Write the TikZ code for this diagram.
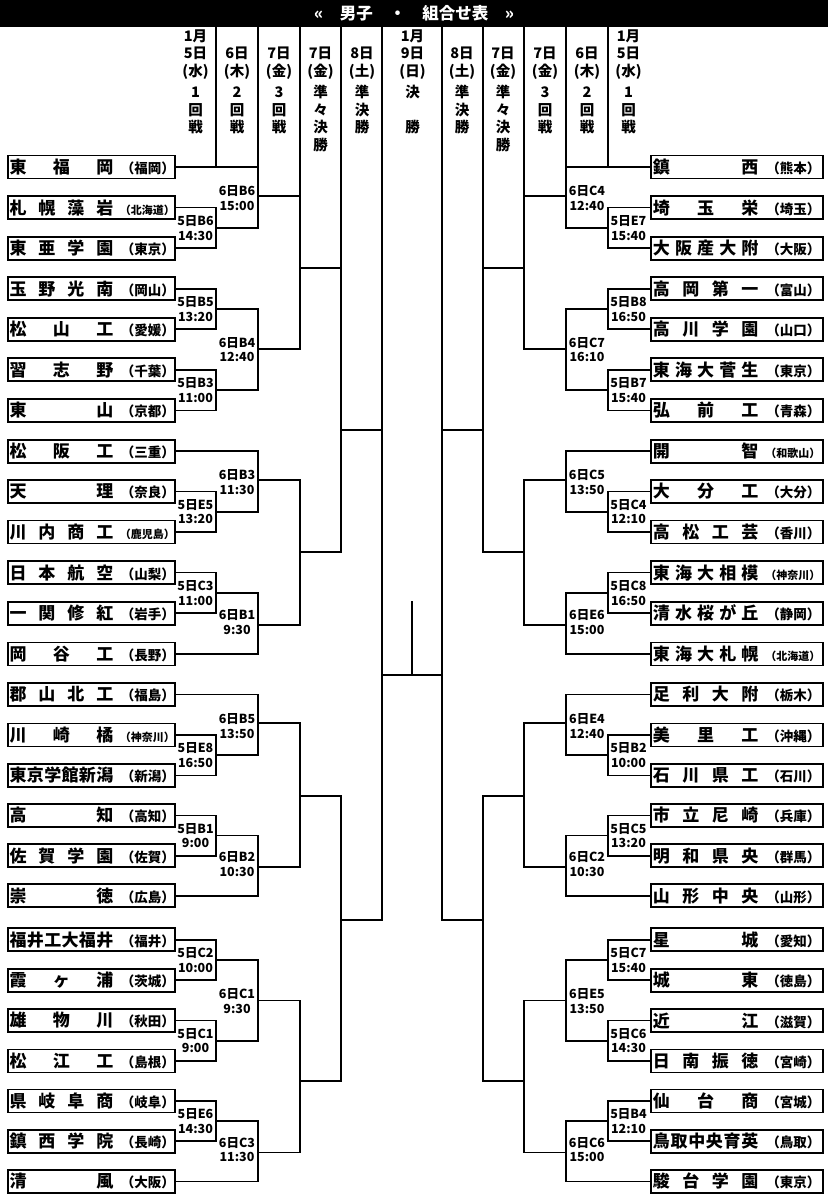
\documentclass[tikz,border=0pt]{standalone}
\usepackage{fontspec}
\setmainfont{Noto Sans CJK JP}
\newcommand\gp{\hfill}
\newcommand\pa[1]{{\fontsize{13.5}{14}\selectfont （#1）}}
\newcommand\pb[1]{{\fontsize{11}{12}\selectfont （#1）}}
\newcommand\tnL[2]{\hbox to 167pt{\hspace{1.6pt}\makebox[103.8pt][s]{\fontsize{17}{18}\selectfont #1}\hfill #2}}
\newcommand\tnR[2]{\hbox to 171.6pt{\hspace{1.8pt}\makebox[105.4pt][s]{\fontsize{17}{18}\selectfont #1}\hfill #2\hspace{2.3pt}}}
\begin{document}
\begin{tikzpicture}[x=1pt,y=-1pt,
  br/.style={line width=1.7pt, line join=miter},
  team/.style={draw, line width=1.9pt, inner sep=0pt, minimum height=23pt, anchor=west, font=\bfseries},
  lbl/.style={font=\bfseries\fontsize{12.5}{14.5}\selectfont, align=center, inner sep=0pt},
  hd/.style={font=\bfseries\fontsize{14.5}{17.5}\selectfont, align=center, inner sep=0pt},
  dte/.style={hd, anchor=south},
  rnd/.style={hd, anchor=north}]
\fill[white] (0,0) rectangle (828,1200);
\useasboundingbox (0,0) rectangle (828,1200);
% title bar
\fill[black] (0,0) rectangle (828,26.7);
\node[font=\bfseries\fontsize{16.5}{18}\selectfont, text=white, inner sep=0pt] (title) at (414,13.5) {«　男子　・　組合せ表　»};

% header texts
\node[dte] (dA) at (195.5,79.5) {1月\\5日\\(水)};
\node[dte] (dB) at (237,79.5) {6日\\(木)};
\node[dte] (dC) at (279,79.5) {7日\\(金)};
\node[dte] (dD) at (320.5,79.5) {7日\\(金)};
\node[dte] (dE) at (362,79.5) {8日\\(土)};
\node[dte] (dF) at (412.5,79.5) {1月\\9日\\(日)};
\node[dte] (dG) at (462,79.5) {8日\\(土)};
\node[dte] (dH) at (503,79.5) {7日\\(金)};
\node[dte] (dI) at (545,79.5) {7日\\(金)};
\node[dte] (dJ) at (587,79.5) {6日\\(木)};
\node[dte] (dK) at (628.5,79.5) {1月\\5日\\(水)};
\node[rnd] (rA) at (195.5,85) {\vphantom{準}1\\回\\戦};
\node[rnd] (rB) at (237,85) {\vphantom{準}2\\回\\戦};
\node[rnd] (rC) at (279,85) {\vphantom{準}3\\回\\戦};
\node[rnd] (rD) at (320.5,85) {準\\々\\決\\勝};
\node[rnd] (rE) at (362,85) {準\\決\\勝};
\node[rnd] (rF) at (412.5,85) {決\\[17.5pt]勝};
\node[rnd] (rG) at (462,85) {準\\決\\勝};
\node[rnd] (rH) at (503,85) {準\\々\\決\\勝};
\node[rnd] (rI) at (545,85) {\vphantom{準}3\\回\\戦};
\node[rnd] (rJ) at (587,85) {\vphantom{準}2\\回\\戦};
\node[rnd] (rK) at (628.5,85) {\vphantom{準}1\\回\\戦};

% left teams
\node[team] (L0) at (7,167) {\tnL{東\gp 福\gp 岡}{\pa{福岡}}};
\node[team] (L1) at (7,207.6) {\tnL{札\gp 幌\gp 藻\gp 岩}{\pb{北海道}}};
\node[team] (L2) at (7,248.3) {\tnL{東\gp 亜\gp 学\gp 園}{\pa{東京}}};
\node[team] (L3) at (7,288.7) {\tnL{玉\gp 野\gp 光\gp 南}{\pa{岡山}}};
\node[team] (L4) at (7,329.3) {\tnL{松\gp 山\gp 工}{\pa{愛媛}}};
\node[team] (L5) at (7,369.8) {\tnL{習\gp 志\gp 野}{\pa{千葉}}};
\node[team] (L6) at (7,410.4) {\tnL{東\gp 山}{\pa{京都}}};
\node[team] (L7) at (7,451.2) {\tnL{松\gp 阪\gp 工}{\pa{三重}}};
\node[team] (L8) at (7,491.5) {\tnL{天\gp 理}{\pa{奈良}}};
\node[team] (L9) at (7,532) {\tnL{川\gp 内\gp 商\gp 工}{\pb{鹿児島}}};
\node[team] (L10) at (7,572.6) {\tnL{日\gp 本\gp 航\gp 空}{\pa{山梨}}};
\node[team] (L11) at (7,613.2) {\tnL{一\gp 関\gp 修\gp 紅}{\pa{岩手}}};
\node[team] (L12) at (7,654) {\tnL{岡\gp 谷\gp 工}{\pa{長野}}};
\node[team] (L13) at (7,694.5) {\tnL{郡\gp 山\gp 北\gp 工}{\pa{福島}}};
\node[team] (L14) at (7,735) {\tnL{川\gp 崎\gp 橘}{\pb{神奈川}}};
\node[team] (L15) at (7,775.4) {\tnL{東\gp 京\gp 学\gp 館\gp 新\gp 潟}{\pa{新潟}}};
\node[team] (L16) at (7,815.4) {\tnL{高\gp 知}{\pa{高知}}};
\node[team] (L17) at (7,855.7) {\tnL{佐\gp 賀\gp 学\gp 園}{\pa{佐賀}}};
\node[team] (L18) at (7,895.7) {\tnL{崇\gp 徳}{\pa{広島}}};
\node[team] (L19) at (7,939.9) {\tnL{福\gp 井\gp 工\gp 大\gp 福\gp 井}{\pa{福井}}};
\node[team] (L20) at (7,980.2) {\tnL{霞\gp ヶ\gp 浦}{\pa{茨城}}};
\node[team] (L21) at (7,1020.5) {\tnL{雄\gp 物\gp 川}{\pa{秋田}}};
\node[team] (L22) at (7,1061) {\tnL{松\gp 江\gp 工}{\pa{島根}}};
\node[team] (L23) at (7,1101) {\tnL{県\gp 岐\gp 阜\gp 商}{\pa{岐阜}}};
\node[team] (L24) at (7,1141.3) {\tnL{鎮\gp 西\gp 学\gp 院}{\pa{長崎}}};
\node[team] (L25) at (7,1181.4) {\tnL{清\gp 風}{\pa{大阪}}};

% right teams
\node[team] (R0) at (650.2,167) {\tnR{鎮\gp 西}{\pa{熊本}}};
\node[team] (R1) at (650.2,207.6) {\tnR{埼\gp 玉\gp 栄}{\pa{埼玉}}};
\node[team] (R2) at (650.2,248.3) {\tnR{大\gp 阪\gp 産\gp 大\gp 附}{\pa{大阪}}};
\node[team] (R3) at (650.2,288.7) {\tnR{高\gp 岡\gp 第\gp 一}{\pa{富山}}};
\node[team] (R4) at (650.2,329.3) {\tnR{高\gp 川\gp 学\gp 園}{\pa{山口}}};
\node[team] (R5) at (650.2,369.8) {\tnR{東\gp 海\gp 大\gp 菅\gp 生}{\pa{東京}}};
\node[team] (R6) at (650.2,410.4) {\tnR{弘\gp 前\gp 工}{\pa{青森}}};
\node[team] (R7) at (650.2,451.2) {\tnR{開\gp 智}{\pb{和歌山}}};
\node[team] (R8) at (650.2,491.5) {\tnR{大\gp 分\gp 工}{\pa{大分}}};
\node[team] (R9) at (650.2,532) {\tnR{高\gp 松\gp 工\gp 芸}{\pa{香川}}};
\node[team] (R10) at (650.2,572.6) {\tnR{東\gp 海\gp 大\gp 相\gp 模}{\pb{神奈川}}};
\node[team] (R11) at (650.2,613.2) {\tnR{清\gp 水\gp 桜\gp が\gp 丘}{\pa{静岡}}};
\node[team] (R12) at (650.2,654) {\tnR{東\gp 海\gp 大\gp 札\gp 幌}{\pb{北海道}}};
\node[team] (R13) at (650.2,694.5) {\tnR{足\gp 利\gp 大\gp 附}{\pa{栃木}}};
\node[team] (R14) at (650.2,735) {\tnR{美\gp 里\gp 工}{\pa{沖縄}}};
\node[team] (R15) at (650.2,775.4) {\tnR{石\gp 川\gp 県\gp 工}{\pa{石川}}};
\node[team] (R16) at (650.2,815.4) {\tnR{市\gp 立\gp 尼\gp 崎}{\pa{兵庫}}};
\node[team] (R17) at (650.2,855.7) {\tnR{明\gp 和\gp 県\gp 央}{\pa{群馬}}};
\node[team] (R18) at (650.2,895.7) {\tnR{山\gp 形\gp 中\gp 央}{\pa{山形}}};
\node[team] (R19) at (650.2,939.9) {\tnR{星\gp 城}{\pa{愛知}}};
\node[team] (R20) at (650.2,980.2) {\tnR{城\gp 東}{\pa{徳島}}};
\node[team] (R21) at (650.2,1020.5) {\tnR{近\gp 江}{\pa{滋賀}}};
\node[team] (R22) at (650.2,1061) {\tnR{日\gp 南\gp 振\gp 徳}{\pa{宮崎}}};
\node[team] (R23) at (650.2,1101) {\tnR{仙\gp 台\gp 商}{\pa{宮城}}};
\node[team] (R24) at (650.2,1141.3) {\tnR{鳥\gp 取\gp 中\gp 央\gp 育\gp 英}{\pa{鳥取}}};
\node[team] (R25) at (650.2,1181.4) {\tnR{駿\gp 台\gp 学\gp 園}{\pa{東京}}};

% junction coordinates, left
\coordinate (m1) at (216,228);   \coordinate (m2) at (216,309);
\coordinate (m3) at (216,390);   \coordinate (m4) at (216,511.7);
\coordinate (m5) at (216,592.9); \coordinate (m6) at (216,755.2);
\coordinate (m7) at (216,835.6); \coordinate (m8) at (216,960);
\coordinate (m9) at (216,1040.7);\coordinate (m10) at (216,1121);
\coordinate (n1) at (257.7,196);   \coordinate (n2) at (257.7,349.3);
\coordinate (n3) at (257.7,480);   \coordinate (n4) at (257.7,625);
\coordinate (n5) at (257.7,723.3); \coordinate (n6) at (257.7,867);
\coordinate (n7) at (257.7,1000.5);\coordinate (n8) at (257.7,1152.5);
\coordinate (t1) at (300,267.7); \coordinate (t2) at (300,552.3);
\coordinate (t3) at (300,795.7); \coordinate (t4) at (300,1081);
\coordinate (q1) at (340.7,430); \coordinate (q2) at (340.7,920);
\coordinate (s1) at (382.3,675);
% junction coordinates, right
\coordinate (rm1) at (608,228);   \coordinate (rm2) at (608,309);
\coordinate (rm3) at (608,390);   \coordinate (rm4) at (608,511.7);
\coordinate (rm5) at (608,592.9); \coordinate (rm6) at (608,755.2);
\coordinate (rm7) at (608,835.6); \coordinate (rm8) at (608,960);
\coordinate (rm9) at (608,1040.7);\coordinate (rm10) at (608,1121);
\coordinate (rn1) at (566,196);   \coordinate (rn2) at (566,349.3);
\coordinate (rn3) at (566,480);   \coordinate (rn4) at (566,625);
\coordinate (rn5) at (566,723.3); \coordinate (rn6) at (566,867);
\coordinate (rn7) at (566,1000.5);\coordinate (rn8) at (566,1152.5);
\coordinate (rt1) at (524.3,267.7); \coordinate (rt2) at (524.3,552.3);
\coordinate (rt3) at (524.3,795.7); \coordinate (rt4) at (524.3,1081);
\coordinate (rq1) at (482.7,430); \coordinate (rq2) at (482.7,920);
\coordinate (rs1) at (441.7,675);
\coordinate (fin) at (412,601);
% header column tops
\coordinate (hL1) at (216,26.7);  \coordinate (hL2) at (257.7,26.7);
\coordinate (hL3) at (300,26.7);  \coordinate (hL4) at (340.7,26.7);
\coordinate (hL5) at (382.3,26.7);
\coordinate (hR1) at (608,26.7);  \coordinate (hR2) at (566,26.7);
\coordinate (hR3) at (524.3,26.7);\coordinate (hR4) at (482.7,26.7);
\coordinate (hR5) at (441.7,26.7);

% header column lines
\draw[br] (hL1) -- (hL1 |- L0.east);
\draw[br] (hL2) -- (hL2 |- L0.east);
\draw[br] (hL3) -- (hL3 |- n1);
\draw[br] (hL4) -- (hL4 |- t1);
\draw[br] (hL5) -- (hL5 |- q1);
\draw[br] (hR1) -- (hR1 |- R0.west);
\draw[br] (hR2) -- (hR2 |- R0.west);
\draw[br] (hR3) -- (hR3 |- rn1);
\draw[br] (hR4) -- (hR4 |- rt1);
\draw[br] (hR5) -- (hR5 |- rq1);

% left bracket: round 1
\draw[br] (L1.east) -| (m1) |- (L2.east);
\draw[br] (L3.east) -| (m2) |- (L4.east);
\draw[br] (L5.east) -| (m3) |- (L6.east);
\draw[br] (L8.east) -| (m4) |- (L9.east);
\draw[br] (L10.east) -| (m5) |- (L11.east);
\draw[br] (L14.east) -| (m6) |- (L15.east);
\draw[br] (L16.east) -| (m7) |- (L17.east);
\draw[br] (L19.east) -| (m8) |- (L20.east);
\draw[br] (L21.east) -| (m9) |- (L22.east);
\draw[br] (L23.east) -| (m10) |- (L24.east);
% round 2
\draw[br] (L0.east) -| (n1) |- (m1);
\draw[br] (m2) -| (n2) |- (m3);
\draw[br] (L7.east) -| (n3) |- (m4);
\draw[br] (m5) -| (n4) |- (L12.east);
\draw[br] (L13.east) -| (n5) |- (m6);
\draw[br] (m7) -| (n6) |- (L18.east);
\draw[br] (m8) -| (n7) |- (m9);
\draw[br] (m10) -| (n8) |- (L25.east);
% round 3, QF, SF
\draw[br] (n1) -| (t1) |- (n2);
\draw[br] (n3) -| (t2) |- (n4);
\draw[br] (n5) -| (t3) |- (n6);
\draw[br] (n7) -| (t4) |- (n8);
\draw[br] (t1) -| (q1) |- (t2);
\draw[br] (t3) -| (q2) |- (t4);
\draw[br] (q1) -| (s1) |- (q2);

% right bracket: round 1
\draw[br] (R1.west) -| (rm1) |- (R2.west);
\draw[br] (R3.west) -| (rm2) |- (R4.west);
\draw[br] (R5.west) -| (rm3) |- (R6.west);
\draw[br] (R8.west) -| (rm4) |- (R9.west);
\draw[br] (R10.west) -| (rm5) |- (R11.west);
\draw[br] (R14.west) -| (rm6) |- (R15.west);
\draw[br] (R16.west) -| (rm7) |- (R17.west);
\draw[br] (R19.west) -| (rm8) |- (R20.west);
\draw[br] (R21.west) -| (rm9) |- (R22.west);
\draw[br] (R23.west) -| (rm10) |- (R24.west);
% round 2
\draw[br] (R0.west) -| (rn1) |- (rm1);
\draw[br] (rm2) -| (rn2) |- (rm3);
\draw[br] (R7.west) -| (rn3) |- (rm4);
\draw[br] (rm5) -| (rn4) |- (R12.west);
\draw[br] (R13.west) -| (rn5) |- (rm6);
\draw[br] (rm7) -| (rn6) |- (R18.west);
\draw[br] (rm8) -| (rn7) |- (rm9);
\draw[br] (rm10) -| (rn8) |- (R25.west);
% round 3, QF, SF
\draw[br] (rn1) -| (rt1) |- (rn2);
\draw[br] (rn3) -| (rt2) |- (rn4);
\draw[br] (rn5) -| (rt3) |- (rn6);
\draw[br] (rn7) -| (rt4) |- (rn8);
\draw[br] (rt1) -| (rq1) |- (rt2);
\draw[br] (rt3) -| (rq2) |- (rt4);
\draw[br] (rq1) -| (rs1) |- (rq2);
% final
\draw[br] (s1) -- (rs1);
\draw[br] (fin) -- (fin |- s1);

% labels, left round 1
\node[lbl] (a1) at (195.5,228) {5日B6\\14:30};
\node[lbl] (a2) at (195.5,309) {5日B5\\13:20};
\node[lbl] (a3) at (195.5,390) {5日B3\\11:00};
\node[lbl] (a4) at (195.5,511.7) {5日E5\\13:20};
\node[lbl] (a5) at (195.5,592.9) {5日C3\\11:00};
\node[lbl] (a6) at (195.5,755.2) {5日E8\\16:50};
\node[lbl] (a7) at (195.5,835.6) {5日B1\\9:00};
\node[lbl] (a8) at (195.5,960) {5日C2\\10:00};
\node[lbl] (a9) at (195.5,1040.7) {5日C1\\9:00};
\node[lbl] (a10) at (195.5,1121) {5日E6\\14:30};
% left round 2
\node[lbl] (b1) at (237,198) {6日B6\\15:00};
\node[lbl] (b2) at (237,349.5) {6日B4\\12:40};
\node[lbl] (b3) at (237,482) {6日B3\\11:30};
\node[lbl] (b4) at (237,622) {6日B1\\9:30};
\node[lbl] (b5) at (237,726) {6日B5\\13:50};
\node[lbl] (b6) at (237,864) {6日B2\\10:30};
\node[lbl] (b7) at (237,1001) {6日C1\\9:30};
\node[lbl] (b8) at (237,1149.5) {6日C3\\11:30};
% right round 1
\node[lbl] (c1) at (628.5,228) {5日E7\\15:40};
\node[lbl] (c2) at (628.5,309) {5日B8\\16:50};
\node[lbl] (c3) at (628.5,390) {5日B7\\15:40};
\node[lbl] (c4) at (628.5,511.7) {5日C4\\12:10};
\node[lbl] (c5) at (628.5,592.9) {5日C8\\16:50};
\node[lbl] (c6) at (628.5,755.2) {5日B2\\10:00};
\node[lbl] (c7) at (628.5,835.6) {5日C5\\13:20};
\node[lbl] (c8) at (628.5,960) {5日C7\\15:40};
\node[lbl] (c9) at (628.5,1040.7) {5日C6\\14:30};
\node[lbl] (c10) at (628.5,1121) {5日B4\\12:10};
% right round 2
\node[lbl] (d1) at (587,198) {6日C4\\12:40};
\node[lbl] (d2) at (587,349.5) {6日C7\\16:10};
\node[lbl] (d3) at (587,482) {6日C5\\13:50};
\node[lbl] (d4) at (587,622) {6日E6\\15:00};
\node[lbl] (d5) at (587,726) {6日E4\\12:40};
\node[lbl] (d6) at (587,864) {6日C2\\10:30};
\node[lbl] (d7) at (587,1001) {6日E5\\13:50};
\node[lbl] (d8) at (587,1149.5) {6日C6\\15:00};
\end{tikzpicture}
\end{document}
